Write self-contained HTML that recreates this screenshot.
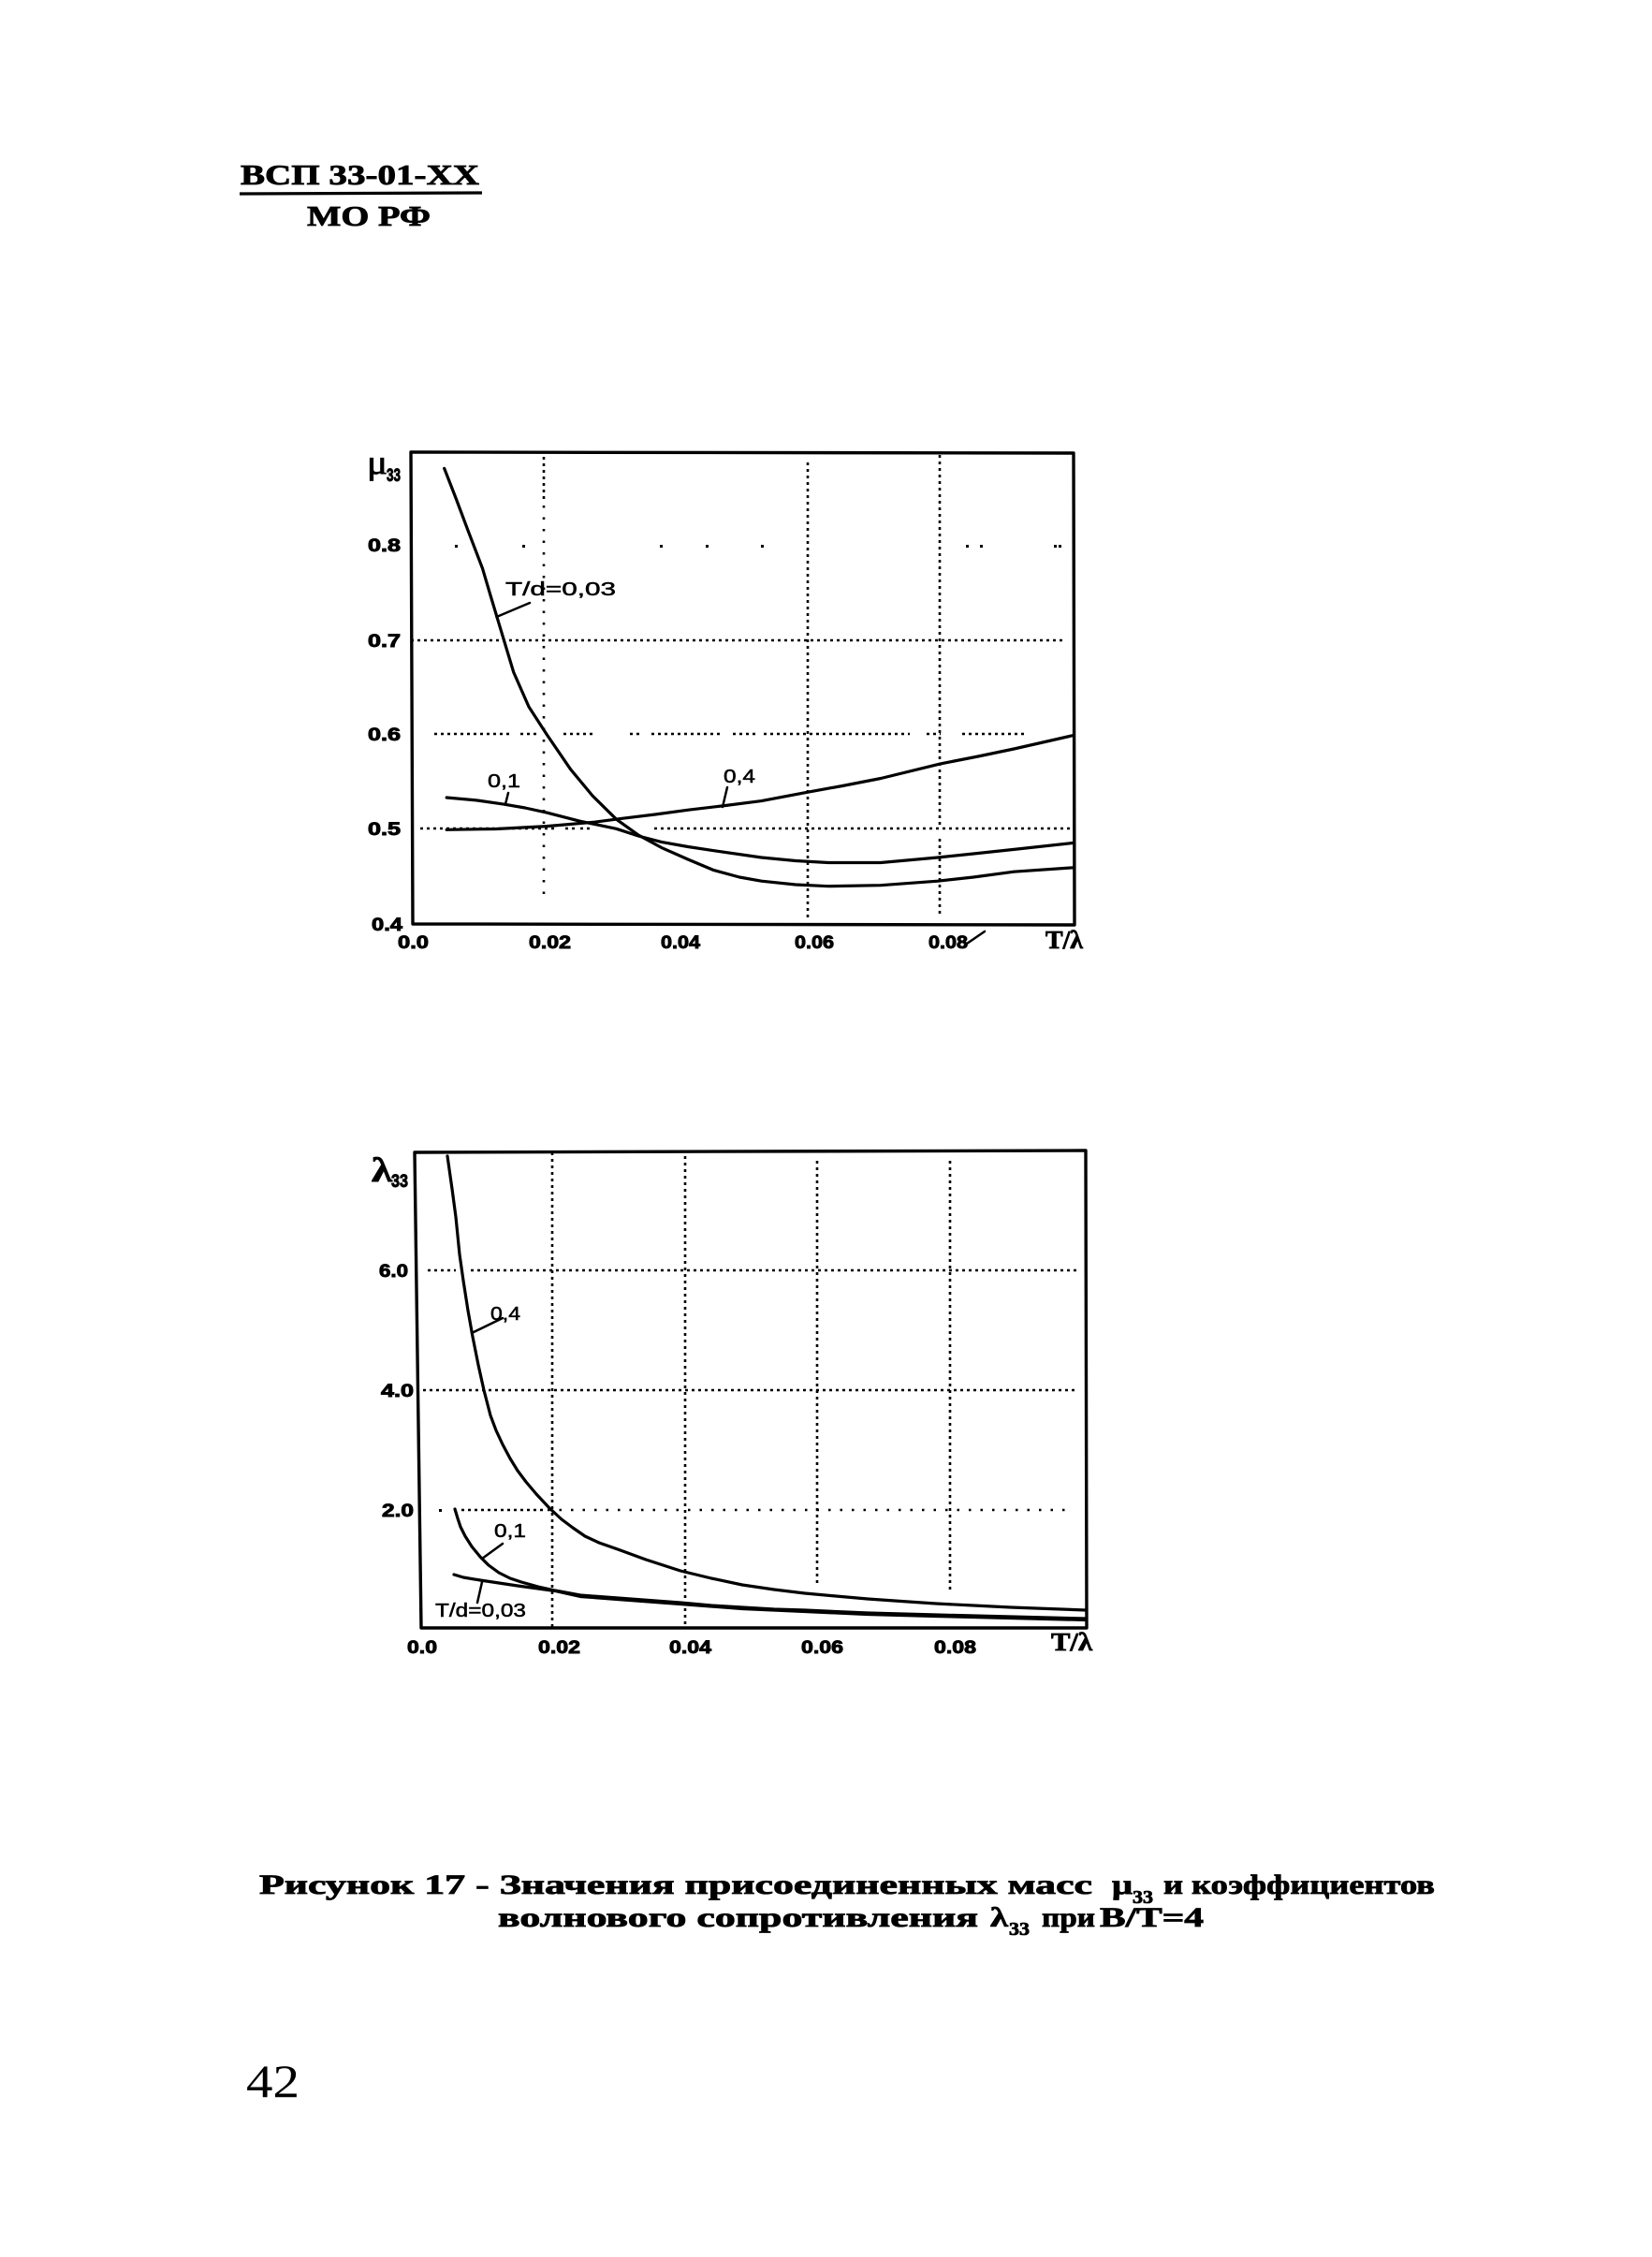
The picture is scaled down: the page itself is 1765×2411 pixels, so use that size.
<!DOCTYPE html>
<html><head><meta charset="utf-8"><style>
html,body{margin:0;padding:0;background:#fff;}
svg{display:block;}
.ax{fill:none;stroke:#000;stroke-width:3.4;stroke-linejoin:round}
.cv{fill:none;stroke:#000;stroke-width:3.2;stroke-linejoin:round;stroke-linecap:round}
.ld{fill:none;stroke:#000;stroke-width:2.5;stroke-linecap:round}
.gd{stroke:#000;stroke-width:2.6;stroke-dasharray:3 4;fill:none}
.gs{stroke:#000;stroke-width:2.6;stroke-dasharray:2.5 10;fill:none}
.tk{font-family:"Liberation Sans",sans-serif;font-weight:bold;font-size:19px;stroke:#000;stroke-width:0.9}
.lb{font-family:"Liberation Sans",sans-serif;font-size:20px;stroke:#000;stroke-width:0.5}
.sf{font-family:"Liberation Serif",serif;font-weight:bold;stroke:#000;stroke-width:0.8}
</style></head><body>
<svg width="1765" height="2411" viewBox="0 0 1765 2411" xmlns="http://www.w3.org/2000/svg">
<rect width="1765" height="2411" fill="#fff"/>

<!-- Header -->
<text x="257" y="197" class="sf" font-size="31" textLength="255" lengthAdjust="spacingAndGlyphs">ВСП 33-01-XX</text>
<line x1="256" y1="207" x2="515" y2="206" stroke="#000" stroke-width="3.2"/>
<text x="328" y="241" class="sf" font-size="31" textLength="132" lengthAdjust="spacingAndGlyphs">МО РФ</text>

<!-- ============ TOP CHART ============ -->
<g>
  <line class="gd" x1="439" y1="684" x2="1139" y2="684"/>
  <line class="gd" x1="464" y1="784" x2="548" y2="784"/>
  <line class="gd" x1="556" y1="784" x2="574" y2="784"/>
  <line class="gd" x1="602" y1="784" x2="635" y2="784"/>
  <line class="gd" x1="673" y1="784" x2="686" y2="784"/>
  <line class="gd" x1="696" y1="784" x2="773" y2="784"/>
  <line class="gd" x1="783" y1="784" x2="809" y2="784"/>
  <line class="gd" x1="816" y1="784" x2="972" y2="784"/>
  <line class="gd" x1="990" y1="784" x2="1005" y2="784"/>
  <line class="gd" x1="1028" y1="784" x2="1094" y2="784"/>
  <line class="gd" x1="449" y1="885" x2="594" y2="885"/>
  <line class="gd" x1="604" y1="885" x2="615" y2="885"/>
  <line class="gd" x1="620" y1="885" x2="630" y2="885"/>
  <line class="gd" x1="699" y1="885" x2="1147" y2="885"/>
  <g fill="#000">
    <rect x="486" y="582" width="3" height="3"/>
    <rect x="558" y="582" width="3" height="3"/>
    <rect x="705" y="582" width="3" height="3"/>
    <rect x="754" y="582" width="3" height="3"/>
    <rect x="813" y="582" width="3" height="3"/>
    <rect x="1032" y="582" width="3" height="3"/>
    <rect x="1047" y="582" width="3" height="3"/>
    <rect x="1126" y="582" width="3" height="3"/>
    <rect x="1131" y="582" width="3" height="3"/>
  </g>
  <line class="gd" x1="581" y1="488" x2="581" y2="534"/>
  <line class="gs" x1="581" y1="540" x2="581" y2="964"/>
  <line class="gd" x1="863" y1="494" x2="863" y2="984"/>
  <line class="gd" x1="1004" y1="486" x2="1004" y2="884"/>
  <line class="gd" x1="1004" y1="896" x2="1004" y2="979"/>
</g>
<path class="ax" d="M439,483 L1147,484 L1148,988 L441,987 Z"/>
<polyline class="cv" points="474.7,500.4 487,532 499.9,566.4 515.5,607.2 524,636 533.2,666.6 548.7,718 565,755 584.1,784.5 609.6,821.8 633,850 658.5,875.2 682,892 706.6,905.4 735,918 762.6,929.6 790,937 813.5,941.2 850,945 885,946.7 941,945.7 1001.9,941.2 1040,937 1083.3,931.2 1147,926.8"/>
<polyline class="cv" points="477.2,852 510,855 538.1,859.1 561,863 584.1,868.1 619.5,877.2 658.5,885.3 682,893 706.6,899.4 735,904.5 762.6,908.7 813.5,916 850,919.5 885,921.5 941,921.5 1001.9,916 1040,912 1083.3,907.4 1147,900.4"/>
<polyline class="cv" points="477.2,886.3 530,885.5 584.1,882.6 635.1,878.2 665.6,874.2 700,870 736.4,865.1 775,860.5 813.5,855.6 861.7,846.4 900,839.5 941,831.5 1004.7,815.9 1045,808 1083.3,800 1147,785.5"/>
<text x="540" y="636" class="lb" textLength="118" lengthAdjust="spacingAndGlyphs">T/d=0,03</text>
<line class="ld" x1="530.5" y1="659" x2="566" y2="644"/>
<text x="521" y="841" class="lb" textLength="35" lengthAdjust="spacingAndGlyphs">0,1</text>
<line class="ld" x1="543" y1="847" x2="540" y2="859"/>
<text x="773" y="836" class="lb" textLength="34" lengthAdjust="spacingAndGlyphs">0,4</text>
<line class="ld" x1="777" y1="841" x2="772" y2="862"/>
<text x="392" y="506" font-family="Liberation Serif, serif" font-size="36" stroke="#000" stroke-width="0.8" textLength="22" lengthAdjust="spacingAndGlyphs">μ</text>
<text x="413" y="514" class="tk" font-size="13" textLength="15" lengthAdjust="spacingAndGlyphs">33</text>
<text x="393" y="589" class="tk" textLength="35" lengthAdjust="spacingAndGlyphs">0.8</text>
<text x="393" y="691" class="tk" textLength="35" lengthAdjust="spacingAndGlyphs">0.7</text>
<text x="393" y="791" class="tk" textLength="35" lengthAdjust="spacingAndGlyphs">0.6</text>
<text x="393" y="892" class="tk" textLength="35" lengthAdjust="spacingAndGlyphs">0.5</text>
<text x="397" y="994" class="tk" textLength="33" lengthAdjust="spacingAndGlyphs">0.4</text>
<text x="425" y="1013" class="tk" textLength="33" lengthAdjust="spacingAndGlyphs">0.0</text>
<text x="565" y="1013" class="tk" textLength="45" lengthAdjust="spacingAndGlyphs">0.02</text>
<text x="706" y="1013" class="tk" textLength="42" lengthAdjust="spacingAndGlyphs">0.04</text>
<text x="849" y="1013" class="tk" textLength="42" lengthAdjust="spacingAndGlyphs">0.06</text>
<text x="992" y="1013" class="tk" textLength="42" lengthAdjust="spacingAndGlyphs">0.08</text>
<line class="ld" x1="1033" y1="1008" x2="1052" y2="995"/>
<text x="1117" y="1013" class="sf" font-size="27" textLength="40" lengthAdjust="spacingAndGlyphs">T/λ</text>

<!-- ============ BOTTOM CHART ============ -->
<g>
  <line class="gd" x1="457" y1="1357" x2="487" y2="1357"/>
  <line class="gd" x1="503" y1="1357" x2="1152" y2="1357"/>
  <line class="gd" x1="452" y1="1485" x2="1152" y2="1485"/>
  <rect x="469" y="1612" width="3" height="3" fill="#000"/>
  <line class="gd" x1="493" y1="1613" x2="580" y2="1613"/>
  <line class="gs" x1="585" y1="1613" x2="1147" y2="1613"/>
  <line class="gd" x1="590" y1="1231" x2="590" y2="1739"/>
  <line class="gd" x1="732" y1="1235" x2="732" y2="1739"/>
  <line class="gd" x1="873" y1="1240" x2="873" y2="1692"/>
  <line class="gd" x1="1015" y1="1240" x2="1015" y2="1702"/>
</g>
<path class="ax" d="M443,1231 L1160,1229 L1161,1739 L450,1739 Z"/>
<polyline class="cv" points="478,1235 483,1270 487,1300 491,1340 495,1368 500,1400 505,1428 511,1458 517,1485 524,1512 530,1528 537,1543 545,1558 553,1571 562,1583 573,1596 587,1611 600,1623 612,1632 625,1641 640,1648 660,1655 690,1666 727,1678 760,1686 793,1693 827,1698 860,1702 893,1705 927,1708 963,1710.5 1000,1713 1040,1715 1080,1717 1120,1718.5 1160,1720"/>
<polyline class="cv" points="486,1612 489,1622 492,1631 497,1641 504,1652 513,1663 522,1672 533,1680 545,1686 557,1690 575,1695 593,1699 620,1704 660,1707 700,1710 727,1712 760,1715 793,1717 827,1719 860,1720 927,1723 1000,1725 1080,1727 1160,1729"/>
<polyline class="cv" points="485,1682 495,1685 513,1688 533,1691 553,1694 575,1697 593,1699.5 620,1705.5 660,1708.5 727,1713.5 793,1718.5 860,1721.5 927,1724.5 1000,1726.5 1080,1728.5 1160,1730.5"/>
<text x="524" y="1410" class="lb" font-size="22" textLength="32" lengthAdjust="spacingAndGlyphs">0,4</text>
<line class="ld" x1="504" y1="1424" x2="537" y2="1408"/>
<text x="528" y="1642" class="lb" font-size="23" textLength="34" lengthAdjust="spacingAndGlyphs">0,1</text>
<line class="ld" x1="515" y1="1665" x2="537" y2="1649"/>
<text x="465" y="1727" class="lb" font-size="24" textLength="97" lengthAdjust="spacingAndGlyphs">T/d=0,03</text>
<line class="ld" x1="515" y1="1690" x2="510" y2="1712"/>
<text x="397" y="1262" class="sf" font-size="37" textLength="22" lengthAdjust="spacingAndGlyphs">λ</text>
<text x="418" y="1268" class="tk" font-size="15" textLength="18" lengthAdjust="spacingAndGlyphs">33</text>
<text x="405" y="1364" class="tk" textLength="31" lengthAdjust="spacingAndGlyphs">6.0</text>
<text x="407" y="1492" class="tk" textLength="35" lengthAdjust="spacingAndGlyphs">4.0</text>
<text x="408" y="1620" class="tk" textLength="34" lengthAdjust="spacingAndGlyphs">2.0</text>
<text x="435" y="1766" class="tk" textLength="32" lengthAdjust="spacingAndGlyphs">0.0</text>
<text x="575" y="1766" class="tk" textLength="45" lengthAdjust="spacingAndGlyphs">0.02</text>
<text x="715" y="1766" class="tk" textLength="45" lengthAdjust="spacingAndGlyphs">0.04</text>
<text x="856" y="1766" class="tk" textLength="45" lengthAdjust="spacingAndGlyphs">0.06</text>
<text x="998" y="1766" class="tk" textLength="45" lengthAdjust="spacingAndGlyphs">0.08</text>
<text x="1123" y="1763" class="sf" font-size="27" textLength="44" lengthAdjust="spacingAndGlyphs">T/λ</text>

<!-- ============ CAPTION ============ -->
<text x="277" y="2023" class="sf" font-size="30" textLength="890" lengthAdjust="spacingAndGlyphs">Рисунок 17 - Значения присоединенных масс</text>
<text x="1188" y="2023" class="sf" font-size="30" textLength="22" lengthAdjust="spacingAndGlyphs">μ</text>
<text x="1210" y="2033" class="sf" font-size="20" textLength="22" lengthAdjust="spacingAndGlyphs">33</text>
<text x="1243" y="2023" class="sf" font-size="30" textLength="290" lengthAdjust="spacingAndGlyphs">и коэффициентов</text>

<text x="532" y="2058" class="sf" font-size="30" textLength="513" lengthAdjust="spacingAndGlyphs">волнового сопротивления</text>
<text x="1058" y="2058" class="sf" font-size="30" textLength="19" lengthAdjust="spacingAndGlyphs">λ</text>
<text x="1078" y="2067" class="sf" font-size="20" textLength="22" lengthAdjust="spacingAndGlyphs">33</text>
<text x="1113" y="2058" class="sf" font-size="30" textLength="57" lengthAdjust="spacingAndGlyphs">при</text>
<text x="1175" y="2058" class="sf" font-size="30" textLength="111" lengthAdjust="spacingAndGlyphs">B/T=4</text>

<!-- page number -->
<text x="263" y="2240" font-family="Liberation Serif, serif" font-size="50" textLength="57" lengthAdjust="spacingAndGlyphs">42</text>
</svg>
</body></html>
